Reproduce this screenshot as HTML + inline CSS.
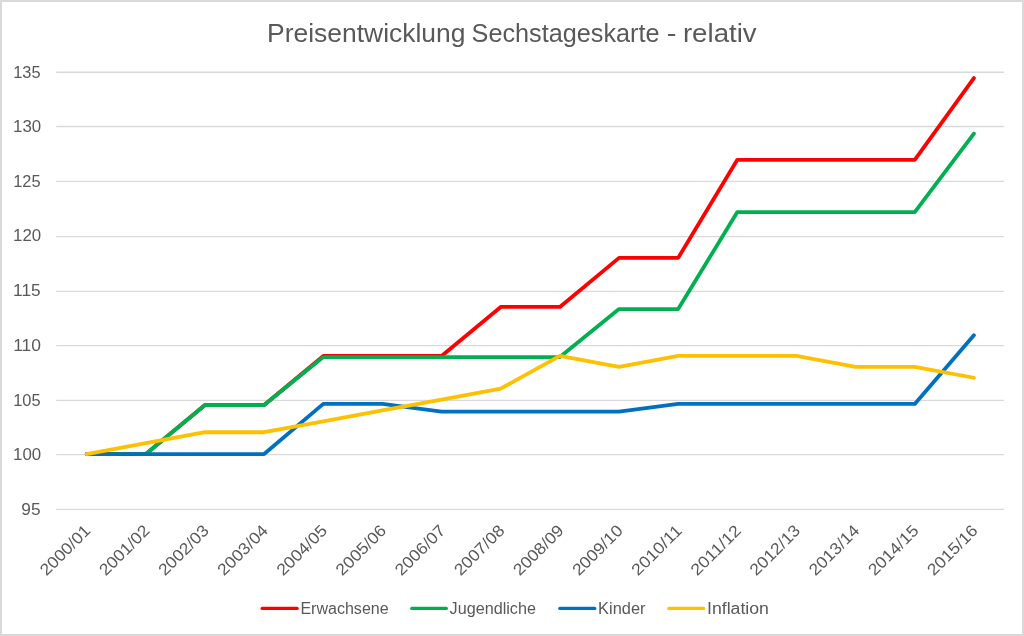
<!DOCTYPE html><html><head><meta charset="utf-8"><style>html,body{margin:0;padding:0;background:#fff;overflow:hidden;}svg{display:block;will-change:transform;}text{font-family:"Liberation Sans",sans-serif;fill:#595959;}</style></head><body>
<svg width="1024" height="636" viewBox="0 0 1024 636">
<rect x="0" y="0" width="1024" height="636" fill="#fff"/>
<rect x="1" y="1" width="1022" height="634" fill="none" stroke="#d9d9d9" stroke-width="2"/>
<text x="267.01" y="42.20" font-size="25.70" textLength="198.47" lengthAdjust="spacingAndGlyphs">Preisentwicklung</text>
<text x="471.62" y="42.20" font-size="25.70" textLength="187.87" lengthAdjust="spacingAndGlyphs">Sechstageskarte</text>
<text x="666.76" y="42.20" font-size="25.70" textLength="9.69" lengthAdjust="spacingAndGlyphs">-</text>
<text x="682.91" y="42.20" font-size="25.70" textLength="73.77" lengthAdjust="spacingAndGlyphs">relativ</text>
<line x1="56.25" x2="1004.00" y1="509.43" y2="509.43" stroke="#d9d9d9" stroke-width="1.33"/>
<line x1="56.25" x2="1004.00" y1="454.55" y2="454.55" stroke="#d9d9d9" stroke-width="1.33"/>
<line x1="56.25" x2="1004.00" y1="400.40" y2="400.40" stroke="#d9d9d9" stroke-width="1.33"/>
<line x1="56.25" x2="1004.00" y1="345.60" y2="345.60" stroke="#d9d9d9" stroke-width="1.33"/>
<line x1="56.25" x2="1004.00" y1="291.30" y2="291.30" stroke="#d9d9d9" stroke-width="1.33"/>
<line x1="56.25" x2="1004.00" y1="236.60" y2="236.60" stroke="#d9d9d9" stroke-width="1.33"/>
<line x1="56.25" x2="1004.00" y1="181.40" y2="181.40" stroke="#d9d9d9" stroke-width="1.33"/>
<line x1="56.25" x2="1004.00" y1="126.50" y2="126.50" stroke="#d9d9d9" stroke-width="1.33"/>
<line x1="56.25" x2="1004.00" y1="72.25" y2="72.25" stroke="#d9d9d9" stroke-width="1.33"/>
<text x="21.30" y="514.81" font-size="16.00" textLength="19.20" lengthAdjust="spacingAndGlyphs">95</text>
<text x="13.06" y="460.28" font-size="16.00" textLength="28.12" lengthAdjust="spacingAndGlyphs">100</text>
<text x="13.18" y="405.75" font-size="16.00" textLength="27.37" lengthAdjust="spacingAndGlyphs">105</text>
<text x="13.17" y="350.52" font-size="16.00" textLength="27.87" lengthAdjust="spacingAndGlyphs">110</text>
<text x="13.08" y="295.99" font-size="16.00" textLength="27.53" lengthAdjust="spacingAndGlyphs">115</text>
<text x="13.06" y="241.46" font-size="16.00" textLength="28.12" lengthAdjust="spacingAndGlyphs">120</text>
<text x="13.18" y="186.93" font-size="16.00" textLength="27.37" lengthAdjust="spacingAndGlyphs">125</text>
<text x="13.06" y="132.40" font-size="16.00" textLength="28.12" lengthAdjust="spacingAndGlyphs">130</text>
<text x="13.18" y="77.86" font-size="16.00" textLength="27.37" lengthAdjust="spacingAndGlyphs">135</text>
<polyline points="86.70,454.04 145.85,454.04 204.99,405.00 264.14,405.00 323.29,355.96 382.44,355.96 441.58,355.96 500.73,306.92 559.88,306.92 619.02,257.88 678.17,257.88 737.32,159.79 796.46,159.79 855.61,159.79 914.76,159.79 973.90,78.06" fill="none" stroke="#FF0000" stroke-width="3.80" stroke-linejoin="round" stroke-linecap="round"/>
<polyline points="86.70,454.04 145.85,454.04 204.99,405.00 264.14,405.00 323.29,357.05 382.44,357.05 441.58,357.05 500.73,357.05 559.88,357.05 619.02,309.10 678.17,309.10 737.32,212.10 796.46,212.10 855.61,212.10 914.76,212.10 973.90,133.64" fill="none" stroke="#00B050" stroke-width="3.80" stroke-linejoin="round" stroke-linecap="round"/>
<polyline points="86.70,454.04 145.85,454.04 204.99,454.04 264.14,454.04 323.29,403.91 382.44,403.91 441.58,411.54 500.73,411.54 559.88,411.54 619.02,411.54 678.17,403.91 737.32,403.91 796.46,403.91 855.61,403.91 914.76,403.91 973.90,335.25" fill="none" stroke="#0070C0" stroke-width="3.80" stroke-linejoin="round" stroke-linecap="round"/>
<polyline points="86.70,454.04 145.85,443.14 204.99,432.24 264.14,432.24 323.29,421.35 382.44,410.45 441.58,399.55 500.73,388.65 559.88,355.96 619.02,366.86 678.17,355.96 737.32,355.96 796.46,355.96 855.61,366.86 914.76,366.86 973.90,377.75" fill="none" stroke="#FFC000" stroke-width="3.80" stroke-linejoin="round" stroke-linecap="round"/>
<text x="91.53" y="531.69" font-size="16.37" text-anchor="end" transform="rotate(-45 91.53 531.69)" textLength="63.52" lengthAdjust="spacingAndGlyphs">2000/01</text>
<text x="150.68" y="531.69" font-size="16.37" text-anchor="end" transform="rotate(-45 150.68 531.69)" textLength="63.52" lengthAdjust="spacingAndGlyphs">2001/02</text>
<text x="209.83" y="531.69" font-size="16.37" text-anchor="end" transform="rotate(-45 209.83 531.69)" textLength="63.52" lengthAdjust="spacingAndGlyphs">2002/03</text>
<text x="268.98" y="531.69" font-size="16.37" text-anchor="end" transform="rotate(-45 268.98 531.69)" textLength="63.52" lengthAdjust="spacingAndGlyphs">2003/04</text>
<text x="328.12" y="531.69" font-size="16.37" text-anchor="end" transform="rotate(-45 328.12 531.69)" textLength="63.52" lengthAdjust="spacingAndGlyphs">2004/05</text>
<text x="387.27" y="531.69" font-size="16.37" text-anchor="end" transform="rotate(-45 387.27 531.69)" textLength="63.52" lengthAdjust="spacingAndGlyphs">2005/06</text>
<text x="446.42" y="531.69" font-size="16.37" text-anchor="end" transform="rotate(-45 446.42 531.69)" textLength="63.52" lengthAdjust="spacingAndGlyphs">2006/07</text>
<text x="505.56" y="531.69" font-size="16.37" text-anchor="end" transform="rotate(-45 505.56 531.69)" textLength="63.52" lengthAdjust="spacingAndGlyphs">2007/08</text>
<text x="564.71" y="531.69" font-size="16.37" text-anchor="end" transform="rotate(-45 564.71 531.69)" textLength="63.52" lengthAdjust="spacingAndGlyphs">2008/09</text>
<text x="623.86" y="531.69" font-size="16.37" text-anchor="end" transform="rotate(-45 623.86 531.69)" textLength="63.52" lengthAdjust="spacingAndGlyphs">2009/10</text>
<text x="683.00" y="531.69" font-size="16.37" text-anchor="end" transform="rotate(-45 683.00 531.69)" textLength="63.52" lengthAdjust="spacingAndGlyphs">2010/11</text>
<text x="742.15" y="531.69" font-size="16.37" text-anchor="end" transform="rotate(-45 742.15 531.69)" textLength="63.52" lengthAdjust="spacingAndGlyphs">2011/12</text>
<text x="801.30" y="531.69" font-size="16.37" text-anchor="end" transform="rotate(-45 801.30 531.69)" textLength="63.52" lengthAdjust="spacingAndGlyphs">2012/13</text>
<text x="860.45" y="531.69" font-size="16.37" text-anchor="end" transform="rotate(-45 860.45 531.69)" textLength="63.52" lengthAdjust="spacingAndGlyphs">2013/14</text>
<text x="919.59" y="531.69" font-size="16.37" text-anchor="end" transform="rotate(-45 919.59 531.69)" textLength="63.52" lengthAdjust="spacingAndGlyphs">2014/15</text>
<text x="978.74" y="531.69" font-size="16.37" text-anchor="end" transform="rotate(-45 978.74 531.69)" textLength="63.52" lengthAdjust="spacingAndGlyphs">2015/16</text>
<line x1="262.20" x2="297.10" y1="608.40" y2="608.40" stroke="#FF0000" stroke-width="3.40" stroke-linecap="round"/>
<line x1="411.80" x2="446.30" y1="608.40" y2="608.40" stroke="#00B050" stroke-width="3.40" stroke-linecap="round"/>
<line x1="559.90" x2="594.70" y1="608.40" y2="608.40" stroke="#0070C0" stroke-width="3.40" stroke-linecap="round"/>
<line x1="668.90" x2="703.60" y1="608.40" y2="608.40" stroke="#FFC000" stroke-width="3.40" stroke-linecap="round"/>
<text x="300.38" y="614.00" font-size="16.00" textLength="88.27" lengthAdjust="spacingAndGlyphs">Erwachsene</text>
<text x="449.58" y="614.00" font-size="16.00" textLength="86.31" lengthAdjust="spacingAndGlyphs">Jugendliche</text>
<text x="598.14" y="614.00" font-size="16.00" textLength="47.34" lengthAdjust="spacingAndGlyphs">Kinder</text>
<text x="707.01" y="614.00" font-size="16.00" textLength="61.91" lengthAdjust="spacingAndGlyphs">Inflation</text>
</svg></body></html>
